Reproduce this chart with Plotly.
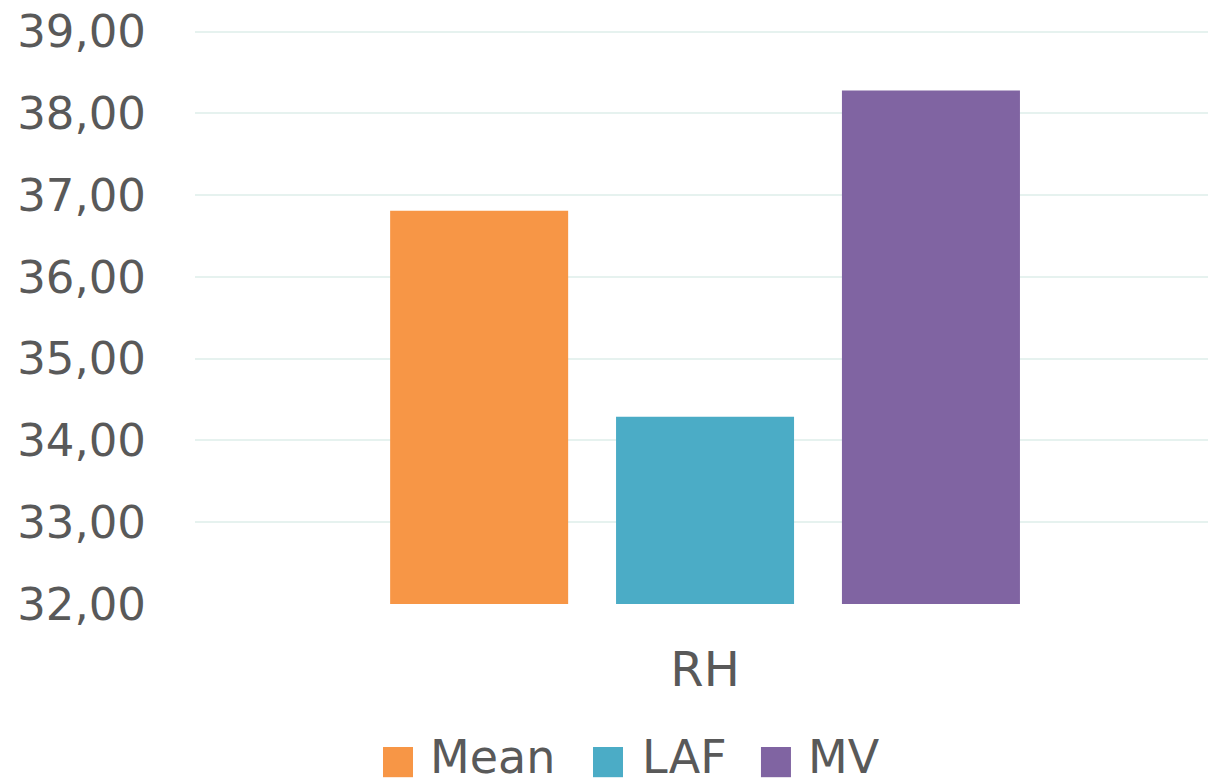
import plotly.graph_objects as go

categories = ["RH"]
series_names = ["Mean", "LAF", "MV"]
mean_vals = [36.81]
laf_vals = [34.29]
mv_vals = [38.28]
colors = ["#F79646", "#4BACC6", "#8064A2"]
y_ticks = [32, 33, 34, 35, 36, 37, 38, 39]

# legend layout (paper coordinates)
legend_swatch_x = [0.1856, 0.3929, 0.5587]
legend_text_x = [0.2305, 0.4388, 0.6035]

fig = go.Figure()
for name, vals, col in zip(series_names, [mean_vals, laf_vals, mv_vals], colors):
    fig.add_trace(go.Bar(name=name, x=categories, y=vals, showlegend=False,
                         marker=dict(color=col, line=dict(width=0))))

text_color = "#595959"
font_family = "DejaVu Sans"

for name, col, sx, tx in zip(series_names, colors, legend_swatch_x, legend_text_x):
    fig.add_shape(type="rect", xref="paper", yref="paper",
                  x0=sx, x1=sx + 30 / 1013, y0=-0.3007, y1=-0.2483,
                  fillcolor=col, line=dict(width=0))
    fig.add_annotation(xref="paper", yref="paper", x=tx, y=-0.266,
                       xanchor="left", yanchor="middle", showarrow=False,
                       text=name, font=dict(size=46, color=text_color, family=font_family))

fig.update_layout(
    width=1208, height=781,
    margin=dict(l=195, r=0, t=28, b=177),
    paper_bgcolor="white", plot_bgcolor="white",
    separators=",.",
    barmode="group", bargap=0.331, bargroupgap=0.212,
    font=dict(family=font_family, color=text_color, size=46),
    showlegend=False,
    xaxis=dict(showgrid=False, showline=False, zeroline=False, ticks="", automargin=False,
               range=[-0.5035, 0.4965],
               tickfont=dict(size=48, color=text_color), ticklabelstandoff=33),
    yaxis=dict(range=[32, 39.045], tickvals=y_ticks, tickformat=".2f", showgrid=True,
               gridcolor="#E6F2EF", gridwidth=2, zeroline=False, showline=False, ticks="",
               automargin=False,
               tickfont=dict(size=45, color=text_color), ticklabelstandoff=48),
)
fig.write_html("out.html", config={"displayModeBar": False},
               post_script="document.body.style.margin='0';document.body.style.overflow='hidden';")
